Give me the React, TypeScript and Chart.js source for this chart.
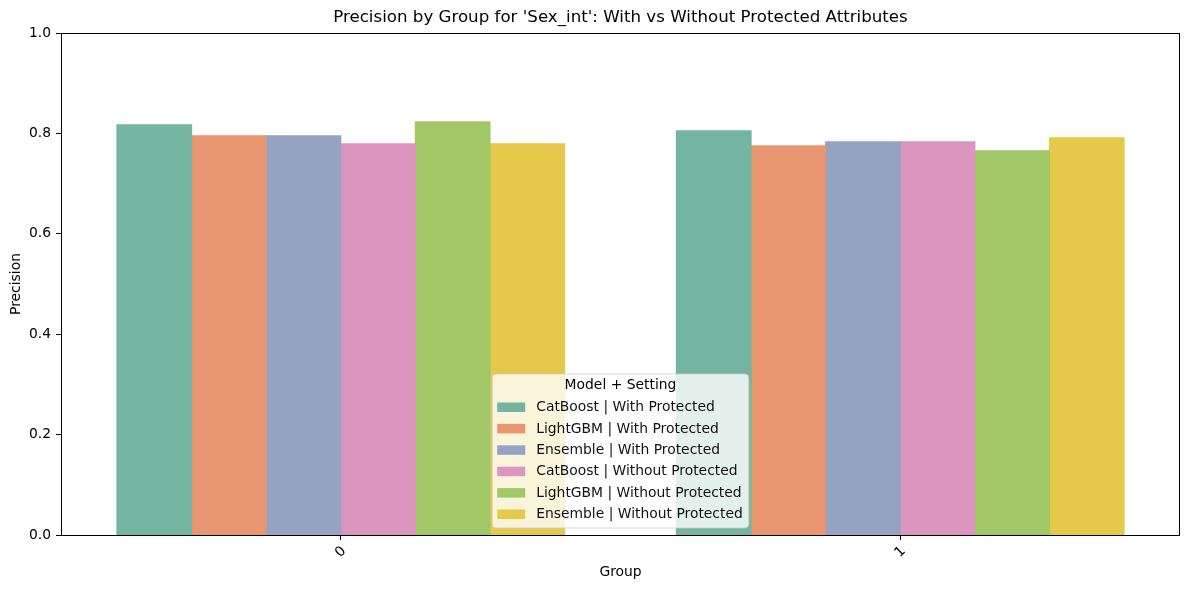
import React, { useEffect, useRef } from "react";
import { Chart, registerables } from "chart.js";

Chart.register(...registerables);

const groups = ["0", "1"];
const seriesNames = [
  "CatBoost | With Protected",
  "LightGBM | With Protected",
  "Ensemble | With Protected",
  "CatBoost | Without Protected",
  "LightGBM | Without Protected",
  "Ensemble | Without Protected",
];
const catboostWith = [0.817, 0.805];
const lightgbmWith = [0.795, 0.775];
const ensembleWith = [0.795, 0.783];
const catboostWithout = [0.779, 0.783];
const lightgbmWithout = [0.823, 0.765];
const ensembleWithout = [0.779, 0.791];
const seriesColors = ["#73b5a0", "#e8966f", "#94a3c2", "#db95bf", "#a2c766", "#e4c94a"];
const yTicks = [0, 0.2, 0.4, 0.6, 0.8, 1.0];

const FONT = "DejaVu Sans";
const TITLE_PX = 16.67;
const LABEL_PX = 13.89;

const decorPlugin = {
  id: "decor",
  afterDraw(chart: any) {
    const { ctx, chartArea } = chart;
    const { left, right, top, bottom } = chartArea;
    ctx.save();
    // frame around the plot
    ctx.strokeStyle = "#000";
    ctx.lineWidth = 1;
    ctx.strokeRect(left + 0.5, top + 0.5, right - left - 1, bottom - top);

    // title
    ctx.fillStyle = "#000";
    ctx.textAlign = "center";
    ctx.textBaseline = "middle";
    ctx.font = `${TITLE_PX}px '${FONT}'`;
    ctx.fillText(
      "Precision by Group for 'Sex_int': With vs Without Protected Attributes",
      (left + right) / 2,
      18
    );

    // axis titles
    ctx.font = `${LABEL_PX}px '${FONT}'`;
    ctx.fillText("Group", (left + right) / 2, 572);
    ctx.save();
    ctx.translate(16, (top + bottom) / 2);
    ctx.rotate(-Math.PI / 2);
    ctx.fillText("Precision", 0, 0);
    ctx.restore();

    // rotated category labels, centred under each tick
    const xScale = chart.scales.x;
    groups.forEach((g, i) => {
      const x = xScale.getPixelForTick(i);
      ctx.save();
      ctx.translate(x, 552);
      ctx.rotate(-Math.PI / 4);
      ctx.textAlign = "center";
      ctx.textBaseline = "middle";
      ctx.fillText(g, 0, 0);
      ctx.restore();
    });

    // legend box (lower center, inside plot)
    ctx.font = `${LABEL_PX}px '${FONT}'`;
    const textW = Math.max(...seriesNames.map((n) => ctx.measureText(n).width));
    const patchW = 28;
    const boxW = 5 + patchW + 11 + textW + 6;
    const boxH = 154;
    const bx = (left + right) / 2 - boxW / 2;
    const by = bottom - 7 - boxH;
    const r = 4;
    ctx.beginPath();
    ctx.moveTo(bx + r, by);
    ctx.lineTo(bx + boxW - r, by);
    ctx.quadraticCurveTo(bx + boxW, by, bx + boxW, by + r);
    ctx.lineTo(bx + boxW, by + boxH - r);
    ctx.quadraticCurveTo(bx + boxW, by + boxH, bx + boxW - r, by + boxH);
    ctx.lineTo(bx + r, by + boxH);
    ctx.quadraticCurveTo(bx, by + boxH, bx, by + boxH - r);
    ctx.lineTo(bx, by + r);
    ctx.quadraticCurveTo(bx, by, bx + r, by);
    ctx.closePath();
    ctx.fillStyle = "rgba(255,255,255,0.8)";
    ctx.fill();
    ctx.strokeStyle = "rgba(204,204,204,0.8)";
    ctx.stroke();

    ctx.fillStyle = "#000";
    ctx.textAlign = "center";
    ctx.fillText("Model + Setting", bx + boxW / 2, by + 11);
    ctx.textAlign = "left";
    seriesNames.forEach((name, i) => {
      const cy = by + 33 + i * 21.4;
      ctx.fillStyle = seriesColors[i];
      ctx.fillRect(bx + 5, cy - 4.5, patchW, 9.5);
      ctx.fillStyle = "#111";
      ctx.fillText(name, bx + 5 + patchW + 11, cy + 0.5);
    });
    ctx.restore();
  },
};

export default function App() {
  const canvasRef = useRef<HTMLCanvasElement | null>(null);

  useEffect(() => {
    document.body.style.margin = "0";
    const canvas = canvasRef.current;
    if (!canvas) return;
    const values = [
      catboostWith,
      lightgbmWith,
      ensembleWith,
      catboostWithout,
      lightgbmWithout,
      ensembleWithout,
    ];
    const chart = new Chart(canvas, {
      type: "bar",
      data: {
        labels: groups,
        datasets: seriesNames.map((name, i) => ({
          label: name,
          data: values[i],
          backgroundColor: seriesColors[i],
          borderWidth: 0,
          inflateAmount: 0.6,
          categoryPercentage: 0.8,
          barPercentage: 1.0,
        })),
      },
      options: {
        animation: false,
        responsive: false,
        devicePixelRatio: 1,
        layout: { padding: { top: 33, right: 9, left: 0, bottom: 0 } },
        plugins: {
          legend: { display: false },
          title: { display: false },
          tooltip: { enabled: false },
        },
        scales: {
          x: {
            grid: {
              drawOnChartArea: false,
              drawTicks: true,
              tickLength: 5,
              color: "#000",
              offset: false,
            },
            border: { display: false },
            ticks: {
              color: "rgba(0,0,0,0)",
              font: { family: FONT, size: LABEL_PX },
              maxRotation: 0,
            },
            afterFit(scale: any) {
              scale.height = 55;
            },
          },
          y: {
            min: 0,
            max: 1,
            afterBuildTicks(scale: any) {
              scale.ticks = yTicks.map((v) => ({ value: v }));
            },
            grid: {
              drawOnChartArea: false,
              drawTicks: true,
              tickLength: 5,
              color: "#000",
            },
            border: { display: false },
            ticks: {
              color: "#000",
              font: { family: FONT, size: LABEL_PX },
              padding: 5,
              callback: (v: any) => Number(v).toFixed(1),
            },
            afterFit(scale: any) {
              scale.width = 61;
            },
          },
        },
      },
      plugins: [decorPlugin],
    });
    return () => chart.destroy();
  }, []);

  return (
    <div style={{ width: 1189, height: 590 }}>
      <canvas ref={canvasRef} width={1189} height={590} />
    </div>
  );
}
